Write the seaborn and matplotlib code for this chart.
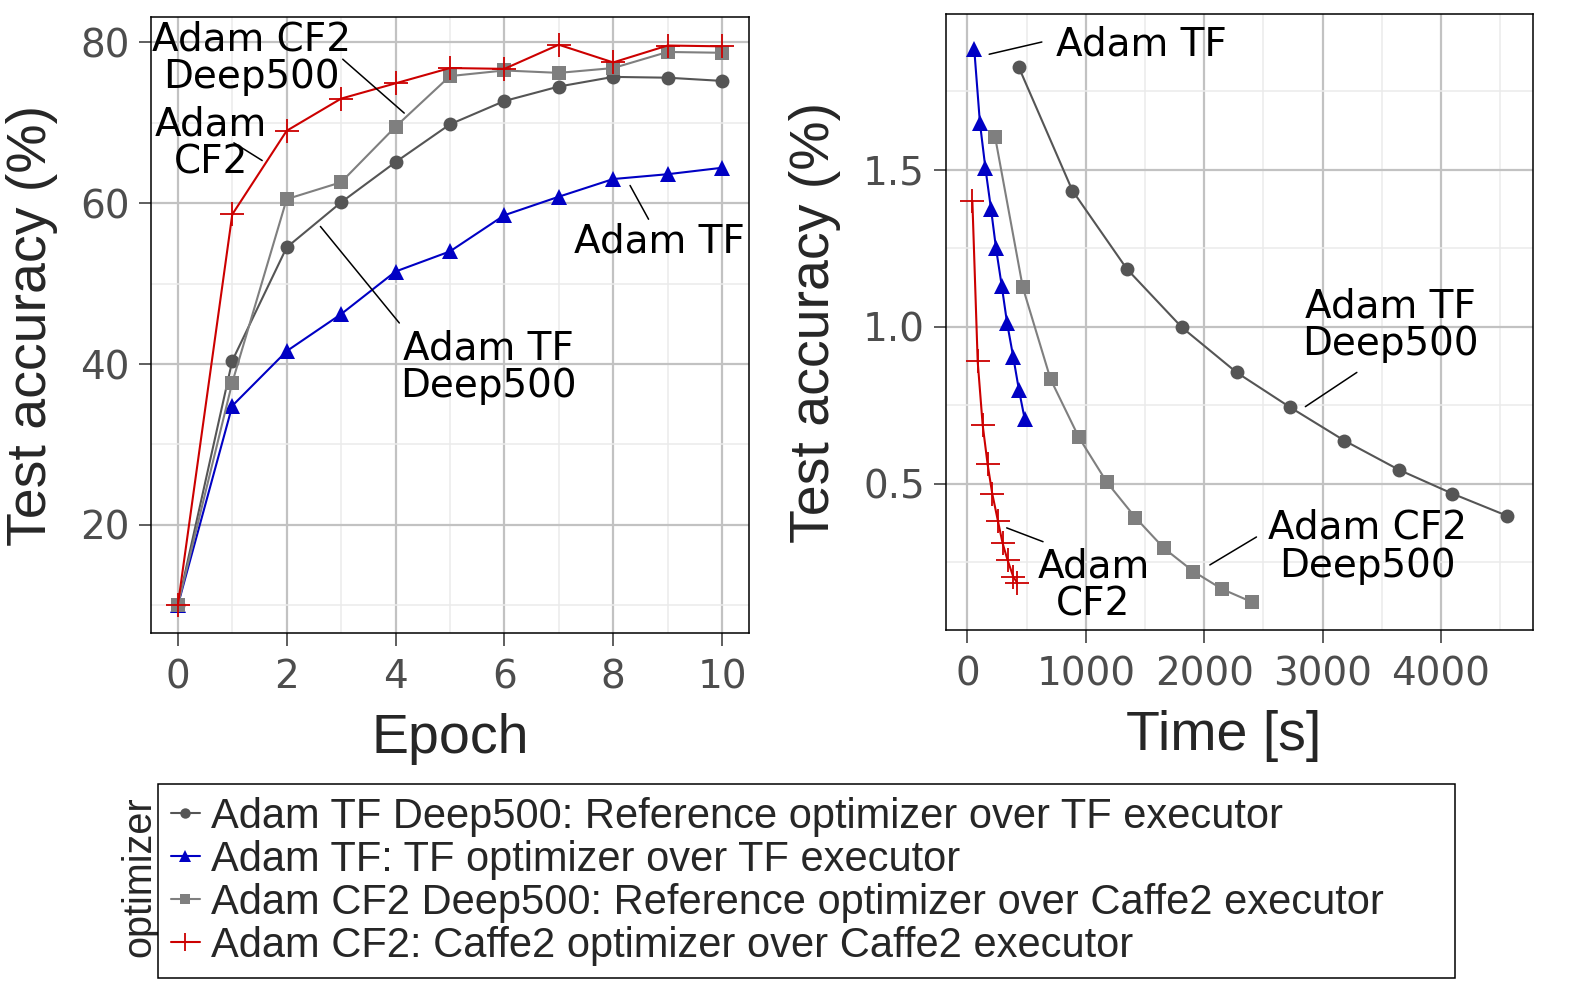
import numpy as np
import pandas as pd
import seaborn as sns
import matplotlib.pyplot as plt
from matplotlib.ticker import MultipleLocator, FormatStrFormatter

# series
optimizers = ['Adam TF Deep500', 'Adam TF', 'Adam CF2 Deep500', 'Adam CF2']
legend_labels = [
    'Adam TF Deep500: Reference optimizer over TF executor',
    'Adam TF: TF optimizer over TF executor',
    'Adam CF2 Deep500: Reference optimizer over Caffe2 executor',
    'Adam CF2: Caffe2 optimizer over Caffe2 executor',
]

# left panel: accuracy per epoch
epochs = list(range(11))
acc_tf_deep500 = [10.0, 40.4, 54.5, 60.1, 65.1, 69.8, 72.7, 74.5, 75.7, 75.6, 75.2]
acc_tf = [10.0, 34.8, 41.6, 46.2, 51.5, 54.0, 58.5, 60.8, 63.0, 63.6, 64.4]
acc_cf2_deep500 = [10.0, 37.7, 60.5, 62.6, 69.5, 75.8, 76.5, 76.2, 76.8, 78.8, 78.7]
acc_cf2 = [10.0, 58.6, 69.0, 73.0, 74.9, 76.8, 76.7, 79.7, 77.5, 79.6, 79.5]

# right panel: value over time
time_tf_deep500 = [435, 887, 1348, 1813, 2274, 2726, 3184, 3645, 4097, 4555]
val_tf_deep500 = [1.826, 1.434, 1.184, 0.998, 0.855, 0.744, 0.638, 0.545, 0.469, 0.399]
time_tf = [58, 106, 152, 200, 242, 290, 335, 387, 435, 484]
val_tf = [1.884, 1.649, 1.506, 1.374, 1.250, 1.131, 1.013, 0.905, 0.800, 0.707]
time_cf2_deep500 = [235, 468, 703, 942, 1177, 1419, 1661, 1910, 2152, 2403]
val_cf2_deep500 = [1.603, 1.126, 0.833, 0.648, 0.506, 0.393, 0.295, 0.221, 0.165, 0.124]
time_cf2 = [42, 87, 129, 171, 210, 258, 297, 339, 387, 419]
val_cf2 = [1.401, 0.890, 0.688, 0.562, 0.469, 0.382, 0.312, 0.258, 0.205, 0.186]

left = pd.concat([
    pd.DataFrame({'optimizer': o, 'x': epochs, 'y': a})
    for o, a in zip(optimizers, [acc_tf_deep500, acc_tf, acc_cf2_deep500, acc_cf2])
])
right = pd.concat([
    pd.DataFrame({'optimizer': o, 'x': t, 'y': v})
    for o, t, v in zip(optimizers,
                       [time_tf_deep500, time_tf, time_cf2_deep500, time_cf2],
                       [val_tf_deep500, val_tf, val_cf2_deep500, val_cf2])
])

styles = {
    'Adam TF Deep500': dict(color='#555555', marker='o', markersize=10, markeredgewidth=0),
    'Adam TF': dict(color='#0000c4', marker='^', markersize=12, markeredgewidth=0),
    'Adam CF2 Deep500': dict(color='#7f7f7f', marker='s', markersize=10, markeredgewidth=0),
    'Adam CF2': dict(color='#cc0000', marker='+', markersize=17, markeredgewidth=1.3),
}

sns.set_style('white')
plt.rcParams['font.family'] = ['Liberation Sans', 'DejaVu Sans']

fig = plt.figure(figsize=(15.84, 10), dpi=100)
ax1 = fig.add_axes([0.0951, 0.3667, 0.3779, 0.6166])
ax2 = fig.add_axes([0.5970, 0.370, 0.3710, 0.616])

for ax, df in [(ax1, left), (ax2, right)]:
    for o in optimizers:
        st = styles[o]
        sns.lineplot(data=df[df['optimizer'] == o], x='x', y='y', ax=ax,
                     color=st['color'], marker=st['marker'],
                     markersize=st['markersize'],
                     markeredgewidth=st['markeredgewidth'],
                     markeredgecolor=st['color'], linewidth=1.5,
                     sort=False, errorbar=None, label=o, zorder=3)

# axes styling
ax1.xaxis.set_major_locator(MultipleLocator(2))
ax1.xaxis.set_minor_locator(MultipleLocator(1))
ax1.yaxis.set_major_locator(MultipleLocator(20))
ax1.yaxis.set_minor_locator(MultipleLocator(10))
ax2.xaxis.set_major_locator(MultipleLocator(1000))
ax2.xaxis.set_minor_locator(MultipleLocator(500))
ax2.yaxis.set_major_locator(MultipleLocator(0.5))
ax2.yaxis.set_minor_locator(MultipleLocator(0.25))
ax2.yaxis.set_major_formatter(FormatStrFormatter('%.1f'))

ax1.set_xlabel('Epoch', fontsize=40)
ax2.set_xlabel('Time [s]', fontsize=40)
ax1.xaxis.set_label_coords(0.5, -0.13)
ax2.xaxis.set_label_coords(0.473, -0.13)
for ax in (ax1, ax2):
    ax.set_ylabel('Test accuracy (%)', fontsize=40, labelpad=16)
    ax.grid(which='major', color='#c2c2c2', linewidth=1.6, zorder=0)
    ax.grid(which='minor', color='#ebebeb', linewidth=1.1, zorder=0)
    ax.set_axisbelow(True)
    ax.tick_params(which='major', direction='out', length=9, width=1.1,
                   color='#333333', labelsize=28, labelcolor='#4d4d4d',
                   bottom=True, left=True)
    ax.tick_params(axis='x', pad=9)
    ax.tick_params(axis='y', pad=6)
    ax.tick_params(which='minor', length=0)
    for lab in ax.get_xticklabels() + ax.get_yticklabels():
        lab.set_family('DejaVu Sans')
    for s in ax.spines.values():
        s.set_color('black')
        s.set_linewidth(1.1)
    ax.get_legend().remove()

ax1.margins(x=0.05, y=0.05)
ax2.margins(x=0.05, y=0.05)

# direct labels
ann_font = dict(fontsize=28, family='DejaVu Sans', color='black', linespacing=1.0)
left_notes = [
    ('Adam CF2\nDeep500', 1.36, 78.0, 'center', (3.03, 4.16), (77.9, 71.2)),
    ('Adam\nCF2', -0.43, 67.4, 'left', (1.03, 1.55), (67.5, 65.3)),
    ('Adam TF', 8.85, 55.2, 'center', (8.31, 8.65), (62.2, 58.0)),
    ('Adam TF\nDeep500', 5.71, 39.6, 'center', (2.62, 4.07), (57.1, 45.1)),
]
right_notes = [
    ('Adam TF', 1470, 1.90, 'center', (184, 629), (1.868, 1.907)),
    ('Adam TF\nDeep500', 3573, 1.005, 'center', (2855, 3290), (0.746, 0.855)),
    ('Adam CF2\nDeep500', 3379, 0.30, 'center', (2048, 2442), (0.242, 0.331)),
    ('Adam\nCF2', 1065, 0.177, 'center', (332, 639), (0.360, 0.316)),
]
for ax, notes in [(ax1, left_notes), (ax2, right_notes)]:
    for txt, tx, ty, ha, lx, ly in notes:
        ax.plot(lx, ly, color='black', linewidth=1.1, zorder=4)
        ax.text(tx, ty, txt, ha=ha, va='center', multialignment='center',
                zorder=5, **ann_font)

# legend below
handles, _ = ax1.get_legend_handles_labels()
x0, x1 = 158.3 / 1584, 1454.6 / 1584
top = 1 - 784.3 / 1000
leg = fig.legend(handles, legend_labels, loc='upper left',
                 bbox_to_anchor=(x0, top - 0.2, x1 - x0, 0.2), mode='expand',
                 borderaxespad=0, frameon=True, fancybox=False,
                 edgecolor='black', framealpha=1,
                 handlelength=0.7, handletextpad=0.26, labelspacing=0.07,
                 borderpad=0.3, markerscale=0.75, fontsize=30)
leg.get_frame().set_linewidth(1.1)
fig.text(139 / 1584, 1 - 877 / 1000, 'optimizer', rotation=90,
         ha='center', va='center', fontsize=28.5)

plt.savefig('out.png', dpi=100)
